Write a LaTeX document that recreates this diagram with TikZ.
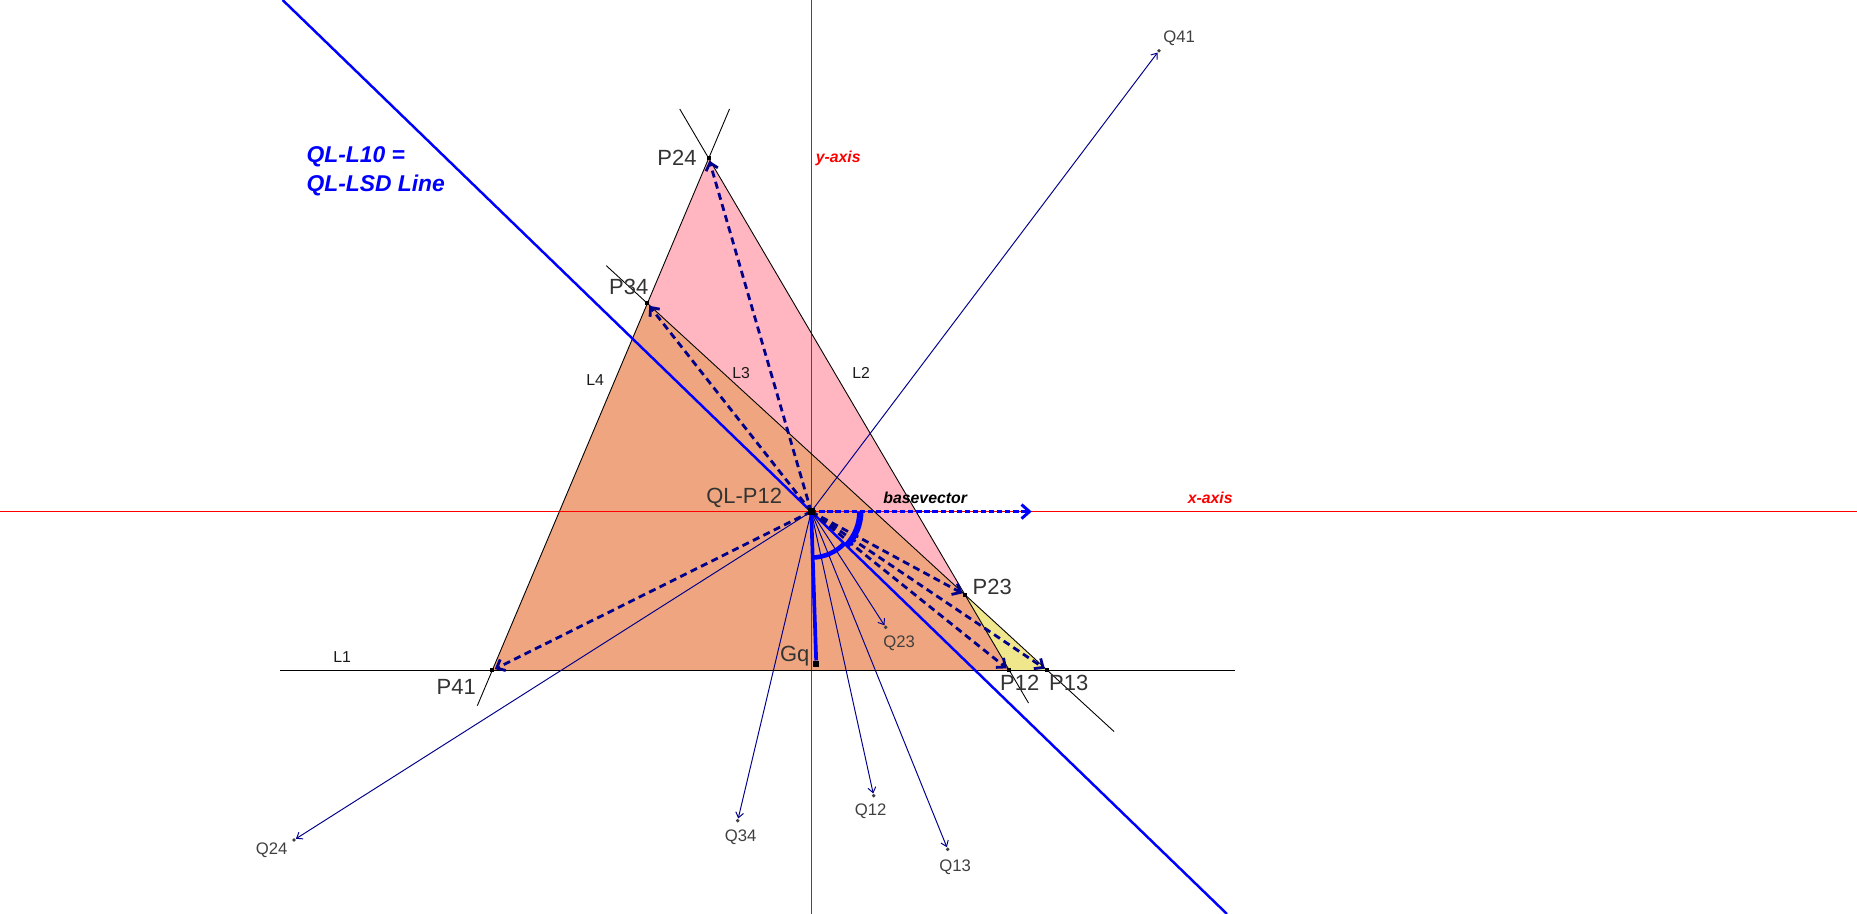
\documentclass[tikz,border=0pt]{standalone}
\usepackage{fontspec}
\setmainfont{Liberation Sans}
\usetikzlibrary{positioning}
\usetikzlibrary{calc}
\usetikzlibrary{arrows.meta}

\definecolor{triPink}{RGB}{255,182,193}
\definecolor{triOrange}{RGB}{239,166,128}
\definecolor{triYellow}{RGB}{240,230,140}
\definecolor{qlNavy}{RGB}{0,0,139}

\begin{document}
\begin{tikzpicture}[x=1cm, y=1cm,
                        ptmark/.style={rectangle, fill=black, minimum size=2.4pt, inner sep=0pt},
                        qdot/.style={circle, fill=black!75, minimum size=2.2pt, inner sep=0pt},
                        plabel/.style={text=black!80, inner sep=0pt, font=\fontsize{12.5}{15}\selectfont},
                        qlabel/.style={text=black!75, inner sep=0pt, font=\fontsize{9.5}{11}\selectfont},
                        llabel/.style={text=black!90, inner sep=0pt, font=\fontsize{9}{11}\selectfont},
                        axislabel/.style={text=red, inner sep=0pt, font=\fontsize{9}{11}\selectfont\bfseries\itshape},
                        lline/.style={black, line width=0.5pt},
                        axisline/.style={red, line width=0.6pt},
                        dasharrow/.style={qlNavy, line width=1.6pt, dash pattern=on 4pt off 2.6pt,
                                          -{Straight Barb[length=4pt,width=7pt]}},
                        qarrow/.style={qlNavy, line width=0.55pt, -{Straight Barb[length=3pt,width=4.5pt]}},
                        angarc/.style={blue, line width=2.6pt}]

            \useasboundingbox (-16.224,-8.048) rectangle (20.916,10.232);

            \coordinate (O) at (0,0);
            \coordinate (P24) at (-2.05,7.066);
            \coordinate (P34) at (-3.278,4.166);
            \coordinate (P41) at (-6.378,-3.174);
            \coordinate (P23) at (3.075,-1.6625);
            \coordinate (P12) at (3.962,-3.174);
            \coordinate (P13) at (4.722,-3.174);

            \fill[triPink] (P24) -- (P34) -- (P23) -- cycle;
            \fill[triOrange] (P41) -- (P34) -- (P23) -- (P12) -- cycle;
            \fill[triYellow] (P23) -- (P12) -- (P13) -- cycle;

            \coordinate (xleft) at (-16.224,0);
            \coordinate (xright) at (20.916,0);
            \coordinate (ytop) at (0,10.232);
            \coordinate (ybottom) at (0,-8.048);
            \draw[axisline] (xleft) -- (xright);
            \draw[axisline] (ytop) -- (ybottom);

            \coordinate (L1a) at (-10.62,-3.174);
            \coordinate (L1b) at (8.48,-3.174);
            \coordinate (L2a) at ($(P24)!-0.0963!(P12)$);
            \coordinate (L2b) at ($(P24)!1.0639!(P12)$);
            \coordinate (L3a) at ($(P34)!-0.1025!(P13)$);
            \coordinate (L3b) at ($(P34)!1.167!(P13)$);
            \coordinate (L4a) at ($(P41)!-0.0691!(P24)$);
            \coordinate (L4b) at ($(P41)!1.0963!(P24)$);
            \draw[lline, line width=0.8pt] (L1a) -- (L1b);
            \draw[lline] (L2a) -- (L2b);
            \draw[lline] (L3a) -- (L3b);
            \draw[lline] (L4a) -- (L4b);

            \coordinate (LSDa) at (-10.572,10.232);
            \coordinate (LSDb) at (8.316,-8.048);
            \draw[blue, line width=1.4pt] (LSDa) -- (LSDb);

            \node[qdot] (Q41) at (6.956,9.218) {};
            \node[qdot] (Q24) at (-10.344,-6.568) {};
            \node[qdot] (Q34) at (-1.47,-6.182) {};
            \node[qdot] (Q12) at (1.25,-5.682) {};
            \node[qdot] (Q13) at (2.73,-6.754) {};
            \node[qdot] (Q23) at (1.49,-2.314) {};

            \node[ptmark] (mP24) at (P24) {};
            \node[ptmark] (mP34) at (P34) {};
            \node[ptmark] (mP41) at (P41) {};
            \node[ptmark] (mP23) at (P23) {};
            \node[ptmark] (mP12) at (P12) {};
            \node[ptmark] (mP13) at (P13) {};

            \draw[qarrow] (O) -- (Q41);
            \draw[qarrow] (O) -- (Q24);
            \draw[qarrow] (O) -- (Q34);
            \draw[qarrow] (O) -- (Q12);
            \draw[qarrow] (O) -- (Q13);
            \draw[qarrow] (O) -- (Q23);

            \draw[dasharrow] (O) -- (mP24);
            \draw[dasharrow] (O) -- (mP34);
            \draw[dasharrow] (O) -- (mP41);
            \draw[dasharrow] (O) -- (mP23);
            \draw[dasharrow] (O) -- (mP12);
            \draw[dasharrow] (O) -- (mP13);

            \coordinate (base) at (4.41,0);
            \draw[blue, line width=1.7pt, dash pattern=on 3pt off 1.6pt,
                  -{Straight Barb[length=4.5pt,width=8pt]}] (O) -- (base);

            \node[ptmark, minimum size=3.6pt] (Gq) at (0.102,-3.048) {};
            \draw[blue, line width=2.1pt] (O) -- (Gq);
            \draw[angarc] (-88.08:0.92) arc[start angle=-88.08, end angle=-44.07, radius=0.92];
            \draw[angarc] (0:1.0) arc[start angle=0, end angle=-44.07, radius=1.0];
            \draw[blue, line width=1.2pt] (0:0.94) arc[start angle=0, end angle=-44.07, radius=0.94];

            \node[ptmark, minimum size=4.2pt] (QL) at (O) {};

            \node[plabel] (lP24) at (-2.685,7.066) {P24};
            \node[plabel] (lP34) at (-3.65,4.5) {P34};
            \node[plabel] (lP41) at (-7.1,-3.5) {P41};
            \node[plabel] (lP23) at (3.62,-1.51) {P23};
            \node[plabel] (lP12) at (4.17,-3.43) {P12};
            \node[plabel] (lP13) at (5.15,-3.43) {P13};
            \node[plabel] (lQL) at (-1.34,0.27) {QL-P12};
            \node[plabel] (lGq) at (-0.33,-2.9) {Gq};

            \node[qlabel] (lQ41) at (7.36,9.47) {Q41};
            \node[qlabel] (lQ24) at (-10.79,-6.78) {Q24};
            \node[qlabel] (lQ34) at (-1.41,-6.51) {Q34};
            \node[qlabel] (lQ12) at (1.19,-6.0) {Q12};
            \node[qlabel] (lQ13) at (2.88,-7.12) {Q13};
            \node[qlabel] (lQ23) at (1.76,-2.63) {Q23};

            \node[llabel] (lL1) at (-9.38,-2.91) {L1};
            \node[llabel] (lL2) at (1.0,2.77) {L2};
            \node[llabel] (lL3) at (-1.40,2.77) {L3};
            \node[llabel] (lL4) at (-4.32,2.63) {L4};

            \node[axislabel] (lx) at (7.98,0.27) {x-axis};
            \node[axislabel] (ly) at (0.54,7.07) {y-axis};
            \node[inner sep=0pt, font=\fontsize{9}{11}\selectfont\bfseries\itshape] (lbase) at (2.28,0.27) {basevector};
            \node[blue, inner sep=0pt, anchor=west, align=left,
                  font=\fontsize{13}{16.3}\selectfont\bfseries\itshape] (lLSD) at (-10.1,6.81) {QL-L10 =\\QL-LSD Line};

        \end{tikzpicture}
\end{document}
